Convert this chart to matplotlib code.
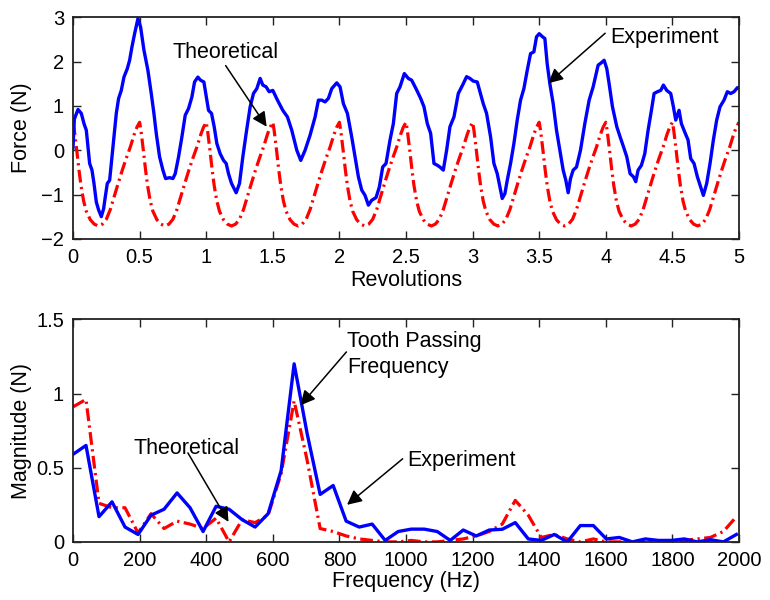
import numpy as np
import matplotlib
matplotlib.use("Agg")
import matplotlib.pyplot as plt
from matplotlib.ticker import FixedLocator, FixedFormatter

plt.rcParams['font.family'] = ['Liberation Sans', 'DejaVu Sans']

# ---------------- data: top panel ----------------
exp_rev = [0.000, 0.010, 0.0375, 0.0625, 0.0825, 0.100, 0.1125, 0.125, 0.1425, 0.1575,
           0.175, 0.1925, 0.2125, 0.230, 0.2425, 0.2575, 0.275, 0.2875, 0.3075, 0.325,
           0.3425, 0.3625, 0.3825, 0.4075, 0.425, 0.4425, 0.4625, 0.4875, 0.5075, 0.5325,
           0.5625, 0.5875, 0.6075, 0.625, 0.650, 0.675, 0.695, 0.725, 0.750, 0.7675,
           0.7925, 0.8175, 0.8425, 0.8675, 0.8925, 0.9125, 0.9375, 0.9575, 0.9825, 1.0175,
           1.040, 1.060, 1.080, 1.105, 1.130, 1.150, 1.1675, 1.190, 1.225, 1.250,
           1.275, 1.300, 1.330, 1.355, 1.380, 1.405, 1.425, 1.450, 1.4725, 1.500,
           1.535, 1.575, 1.610, 1.6425, 1.680, 1.710, 1.7425, 1.780, 1.8175, 1.8425,
           1.8675, 1.8925, 1.9175, 1.9425, 1.980, 2.005, 2.030, 2.060, 2.0925, 2.1175,
           2.1425, 2.1675, 2.1925, 2.2175, 2.2425, 2.275, 2.300, 2.325, 2.350, 2.380,
           2.405, 2.430, 2.455, 2.4875, 2.5175, 2.5425, 2.575, 2.610, 2.635, 2.660,
           2.685, 2.710, 2.735, 2.755, 2.780, 2.805, 2.830, 2.860, 2.8925, 2.925,
           2.955, 2.980, 3.005, 3.035, 3.055, 3.080, 3.105, 3.135, 3.160, 3.185,
           3.205, 3.2225, 3.2425, 3.260, 3.285, 3.310, 3.335, 3.360, 3.385, 3.410,
           3.435, 3.460, 3.480, 3.500, 3.525, 3.5425, 3.560, 3.580, 3.605, 3.630,
           3.655, 3.680, 3.700, 3.7175, 3.735, 3.755, 3.780, 3.810, 3.8425, 3.875,
           3.905, 3.9425, 3.965, 3.9875, 4.0075, 4.025, 4.050, 4.0825, 4.1075, 4.1325,
           4.1575, 4.1825, 4.2075, 4.225, 4.2425, 4.2675, 4.2925, 4.3175, 4.3425, 4.3625,
           4.3875, 4.4125, 4.4325, 4.4575, 4.4875, 4.5075, 4.525, 4.550, 4.5675, 4.5925,
           4.6175, 4.6375, 4.6625, 4.6875, 4.7125, 4.7325, 4.7575, 4.7825, 4.8075, 4.8325,
           4.8575, 4.8875, 4.9125, 4.9375, 4.9625, 4.9875, 5.000]
exp_force = [0.05, 0.70, 0.92, 0.83, 0.60, 0.45, 0.08, -0.30, -0.45, -0.75,
             -1.17, -1.35, -1.50, -1.32, -1.05, -0.75, -0.68, -0.30, 0.30, 0.83,
             1.17, 1.35, 1.65, 1.84, 2.03, 2.33, 2.63, 2.97, 2.78, 2.26,
             1.80, 1.28, 0.83, 0.38, -0.15, -0.45, -0.64, -0.62, -0.64, -0.53,
             -0.15, 0.30, 0.79, 0.94, 1.20, 1.54, 1.65, 1.58, 1.54, 0.90,
             0.83, 0.53, 0.15, -0.08, -0.23, -0.30, -0.53, -0.75, -0.96, -0.75,
             -0.15, 0.38, 0.98, 1.28, 1.39, 1.62, 1.47, 1.43, 1.32, 1.35,
             1.13, 0.90, 0.75, 0.45, 0.00, -0.23, 0.00, 0.34, 0.75, 1.13,
             1.13, 1.09, 1.17, 1.39, 1.52, 1.43, 1.05, 0.83, 0.30, -0.15,
             -0.60, -0.90, -1.02, -1.24, -1.13, -1.07, -0.83, -0.38, -0.30, 0.23,
             0.60, 1.28, 1.43, 1.73, 1.62, 1.58, 1.39, 1.17, 0.98, 0.60,
             0.38, -0.30, -0.34, -0.38, -0.45, 0.00, 0.53, 0.75, 1.28, 1.47,
             1.66, 1.62, 1.56, 1.54, 1.32, 1.05, 0.83, 0.30, -0.30, -0.53,
             -0.83, -1.09, -0.98, -0.68, -0.30, 0.15, 0.68, 1.13, 1.39, 1.80,
             2.18, 2.22, 2.56, 2.63, 2.56, 2.52, 1.95, 1.50, 1.05, 0.45,
             0.00, -0.45, -0.68, -0.96, -0.64, -0.45, -0.38, 0.00, 0.60, 1.13,
             1.43, 1.92, 1.97, 2.03, 1.84, 1.50, 0.98, 0.53, 0.30, 0.08,
             -0.15, -0.53, -0.60, -0.71, -0.45, -0.34, -0.08, 0.45, 0.90, 1.28,
             1.32, 1.35, 1.47, 1.35, 1.28, 0.98, 0.68, 0.90, 0.60, 0.41,
             0.23, -0.19, -0.30, -0.60, -0.83, -1.02, -0.75, -0.30, 0.23, 0.68,
             0.98, 1.13, 1.32, 1.28, 1.32, 1.41, 1.41]

# theoretical force: one tooth period (0.5 rev), repeated per tooth
theo_phase = [0.000, 0.010, 0.020, 0.030, 0.045, 0.060, 0.080, 0.100, 0.130, 0.160,
              0.190, 0.220, 0.250, 0.280, 0.310, 0.340, 0.370, 0.400, 0.430, 0.460,
              0.480, 0.500]
theo_period = [0.63, 0.45, 0.20, -0.05, -0.45, -0.80, -1.15, -1.38, -1.57, -1.67,
               -1.71, -1.67, -1.56, -1.34, -1.04, -0.74, -0.45, -0.18, 0.07, 0.36,
               0.52, 0.63]
n_teeth_periods = 10

top_xticks = [0, 0.5, 1, 1.5, 2, 2.5, 3, 3.5, 4, 4.5, 5]
top_xlabels = ['0', '0.5', '1', '1.5', '2', '2.5', '3', '3.5', '4', '4.5', '5']
top_yticks = [-2, -1, 0, 1, 2, 3]
top_ylabels = ['\u22122', '\u22121', '0', '1', '2', '3']

# ---------------- data: bottom panel ----------------
freq_step = 39.0625
exp_mag = [0.59, 0.65, 0.17, 0.27, 0.10, 0.05, 0.18, 0.22, 0.33, 0.23,
           0.07, 0.24, 0.22, 0.15, 0.10, 0.19, 0.48, 1.20, 0.73, 0.32,
           0.38, 0.14, 0.10, 0.12, 0.01, 0.07, 0.086, 0.086, 0.07, 0.01,
           0.08, 0.04, 0.08, 0.085, 0.13, 0.02, 0.01, 0.05, 0.00, 0.11,
           0.11, 0.02, 0.03, 0.00, 0.02, 0.01, 0.01, 0.02, 0.00, 0.015,
           0.00, 0.05]
theo_mag = [0.91, 0.96, 0.26, 0.23, 0.23, 0.06, 0.19, 0.09, 0.14, 0.12,
            0.09, 0.16, 0.00, 0.15, 0.13, 0.18, 0.46, 0.95, 0.55, 0.09,
            0.07, 0.04, 0.02, 0.01, 0.00, 0.00, 0.01, 0.00, 0.00, 0.01,
            0.02, 0.04, 0.07, 0.12, 0.28, 0.18, 0.03, 0.05, 0.02, 0.00,
            0.02, 0.00, 0.00, 0.00, 0.00, 0.00, 0.00, 0.01, 0.02, 0.03,
            0.07, 0.17]

bot_xticks = [0, 200, 400, 600, 800, 1000, 1200, 1400, 1600, 1800, 2000]
bot_xlabels = [str(v) for v in bot_xticks]
bot_yticks = [0, 0.5, 1, 1.5]
bot_ylabels = ['0', '0.5', '1', '1.5']

# ---------------- build series ----------------
theo_rev = []
theo_force = []
for k in range(n_teeth_periods):
    last = (k == n_teeth_periods - 1)
    ph = theo_phase if last else theo_phase[:-1]
    vals = theo_period if last else theo_period[:-1]
    theo_rev += [0.5 * k + p for p in ph]
    theo_force += list(vals)
freq = np.arange(len(exp_mag)) * freq_step

# ---------------- figure ----------------
W, H = 770, 600
fig = plt.figure(figsize=(W / 100, H / 100), dpi=100)

def px_axes(x0, y0, x1, y1):
    return fig.add_axes([x0 / W, 1 - y1 / H, (x1 - x0) / W, (y1 - y0) / H])

ax1 = px_axes(73, 17.3, 739, 238.8)
ax2 = px_axes(73, 319.3, 739, 541.9)

BLUE = '#0000FF'
RED = '#FF0000'
tick_fs = 14.5
lab_fs = 15.5
ann_fs = 15.5
dashdot = (0, (4.0, 1.4, 0.7, 1.4))

ax1.plot(theo_rev, theo_force, color=RED, lw=2.3, linestyle=dashdot)
ax1.plot(exp_rev, exp_force, color=BLUE, lw=2.4, solid_joinstyle='round')
ax1.set_xlim(0, 5)
ax1.set_ylim(-2, 3)

ax2.plot(freq, theo_mag, color=RED, lw=2.3, linestyle=dashdot)
ax2.plot(freq, exp_mag, color=BLUE, lw=2.4)
ax2.set_xlim(0, 2000)
ax2.set_ylim(0, 1.5)

for ax, xt, xl, yt, yl in [(ax1, top_xticks, top_xlabels, top_yticks, top_ylabels),
                           (ax2, bot_xticks, bot_xlabels, bot_yticks, bot_ylabels)]:
    ax.xaxis.set_major_locator(FixedLocator(xt))
    ax.xaxis.set_major_formatter(FixedFormatter(xl))
    ax.yaxis.set_major_locator(FixedLocator(yt))
    ax.yaxis.set_major_formatter(FixedFormatter(yl))
    ax.tick_params(direction='in', length=6, width=1.0, top=True, right=True,
                   labelsize=tick_fs, color='#222222')
    ax.tick_params(axis='x', pad=6.5)
    ax.tick_params(axis='y', pad=6.5)
    for s in ax.spines.values():
        s.set_linewidth(1.3)
        s.set_color('#222222')

ax1.set_xlabel('Revolutions', fontsize=lab_fs, labelpad=2.5)
ax1.set_ylabel('Force (N)', fontsize=lab_fs)
ax2.set_xlabel('Frequency (Hz)', fontsize=lab_fs, labelpad=1)
ax2.set_ylabel('Magnitude (N)', fontsize=lab_fs)
ax1.yaxis.set_label_coords(-0.062, 0.5)
ax2.yaxis.set_label_coords(-0.062, 0.5)

arrow = dict(arrowstyle='-|>', color='k', lw=1.1, mutation_scale=22,
             shrinkA=0, shrinkB=0)

# top annotations
ax1.annotate('', xy=(1.454, 0.53), xytext=(1.146, 1.91), arrowprops=arrow)
ax1.text(1.147, 2.21, 'Theoretical', fontsize=ann_fs, ha='center', va='center')
ax1.annotate('', xy=(3.568, 1.51), xytext=(3.995, 2.64), arrowprops=arrow)
ax1.text(4.03, 2.54, 'Experiment', fontsize=ann_fs, ha='left', va='center')

# bottom annotations
ax2.annotate('', xy=(683, 0.92), xytext=(821, 1.28), arrowprops=arrow)
ax2.text(824, 1.265, 'Tooth Passing\nFrequency', fontsize=ann_fs, ha='left',
         va='center', linespacing=1.3)
ax2.annotate('', xy=(823, 0.25), xytext=(990, 0.56), arrowprops=arrow)
ax2.text(1005, 0.55, 'Experiment', fontsize=ann_fs, ha='left', va='center')
ax2.annotate('', xy=(467, 0.135), xytext=(345, 0.60), arrowprops=arrow)
ax2.text(341, 0.63, 'Theoretical', fontsize=ann_fs, ha='center', va='center')

fig.savefig('out.png', dpi=100)
